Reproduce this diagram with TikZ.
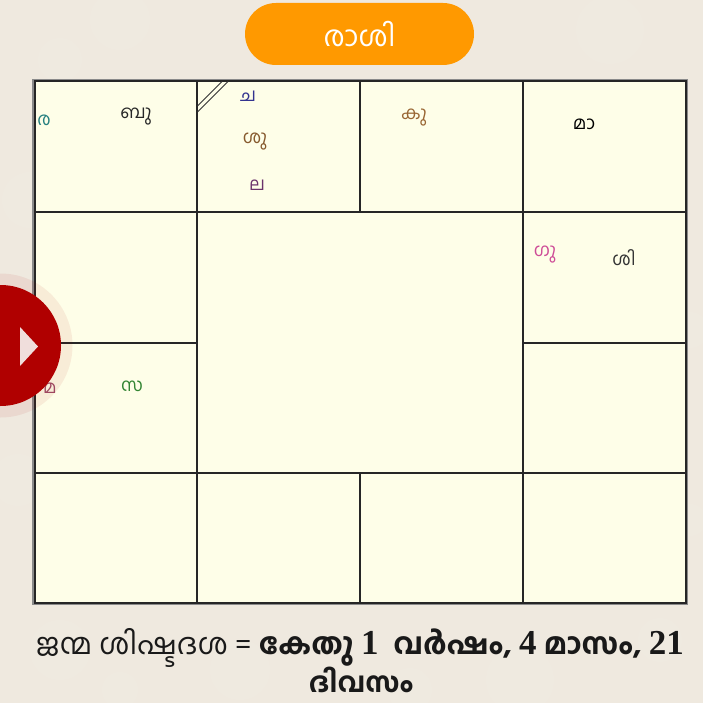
\documentclass[tikz,border=0pt]{standalone}
\usepackage{fontspec}
\setmainfont{Liberation Serif}
\newfontfamily\ml[Script=Malayalam]{Hind Kochi}
\newfontfamily\mlb[Script=Malayalam]{Hind Kochi Bold}
\newfontfamily\numf{Liberation Serif Bold}
\newcommand{\dgt}[1]{{\numf\fontsize{35}{35}\selectfont #1}}
\definecolor{bgc}{HTML}{EFE9DF}
\definecolor{cellc}{HTML}{FEFEE8}
\definecolor{framec}{HTML}{8A8A8A}
\definecolor{btnc}{HTML}{FF9900}
\definecolor{redc}{HTML}{B00000}
\definecolor{triC}{HTML}{F0DEDC}
\definecolor{blotc}{HTML}{F4F0E8}
\tikzset{
  gridline/.style={draw=black!85,line width=2pt},
  planet/.style={inner sep=0pt,font=\ml\fontsize{18}{18}\selectfont},
  foot/.style={inner sep=0pt,anchor=base,text=black!90}
}
\begin{document}
\begin{tikzpicture}[x=1pt,y=-1pt]
\useasboundingbox (0,0) rectangle (703,703);
\fill[bgc] (0,0) rectangle (703,703);
\foreach \px/\py/\pr in {120/20/30,60/60/22,300/40/26,610/30/34,30/200/28,18/480/26,690/330/18,690/520/16,60/650/30,240/670/30,520/680/34,660/640/22,410/690/22,120/690/18}
  \fill[blotc,opacity=.18] (\px,\py) circle (\pr);
% button
\node[fill=btnc,rounded corners=31pt,minimum width=229pt,minimum height=62pt,inner sep=0pt,text=white,font=\ml\fontsize{28.5}{28.5}\selectfont] (title) at (359.5,34) {രാശി};
% chart
\node[draw=framec,line width=1.6pt,fill=cellc,minimum width=654.5pt,minimum height=524.5pt,inner sep=0pt] (frame) at (360,342) {};
\draw[gridline] (34.5,81.5) rectangle (686,602.5);
\draw[gridline] (34.5,212) -- (686,212) (34.5,473) -- (686,473)
  (34.5,342.5) -- (197.2,342.5) (523.2,342.5) -- (686,342.5)
  (197.2,81.5) -- (197.2,602.5) (523.2,81.5) -- (523.2,602.5)
  (360.2,81.5) -- (360.2,212) (360.2,473) -- (360.2,602.5);
\draw[draw=black!80,line width=.9pt] (197.5,106) -- (222,81.5) (197.5,112) -- (228,81.5);
% planets
\node[planet,text=teal!70!gray] (ra) at (44,120) {ര};
\node[planet,text=black!85] (bu) at (136,117) {ബു};
\node[planet,text=blue!45!black!80] (ca) at (248,96) {ച};
\node[planet,text=brown!70!black] (su) at (255,142) {ശു};
\node[planet,text=violet!55!black!80] (la) at (257,185) {ല};
\node[planet,text=brown!80!black] (ku) at (414,118) {കു};
\node[planet,text=black] (ma) at (584,124) {മാ};
\node[planet,text=magenta!65!gray] (gu) at (545,255) {ഗു};
\node[planet,text=black!80] (si) at (624,258) {ശി};
\node[planet,text=purple!60!black!70] (maa) at (50,388) {മ};
\node[planet,text=green!40!black!80] (sa) at (132,386) {സ};
% side button
\fill[redc,opacity=.07] (0.5,345.5) circle (72);
\fill[redc] (0.5,345.5) circle (60.5);
\fill[triC] (20,327) -- (38,346.5) -- (20,366) -- cycle;
% footer
\node[foot,font=\ml\fontsize{29.4}{29.4}\selectfont] (f1) at (360,654) {ജന്മ ശിഷ്ടദശ = {\mlb കേതു} \dgt{1}\enspace{\mlb വർഷം,} \dgt{4} {\mlb മാസം,} \dgt{21}};
\node[foot,font=\mlb\fontsize{27.5}{27.5}\selectfont] (f2) at (361,692) {ദിവസം};
\end{tikzpicture}
\end{document}
